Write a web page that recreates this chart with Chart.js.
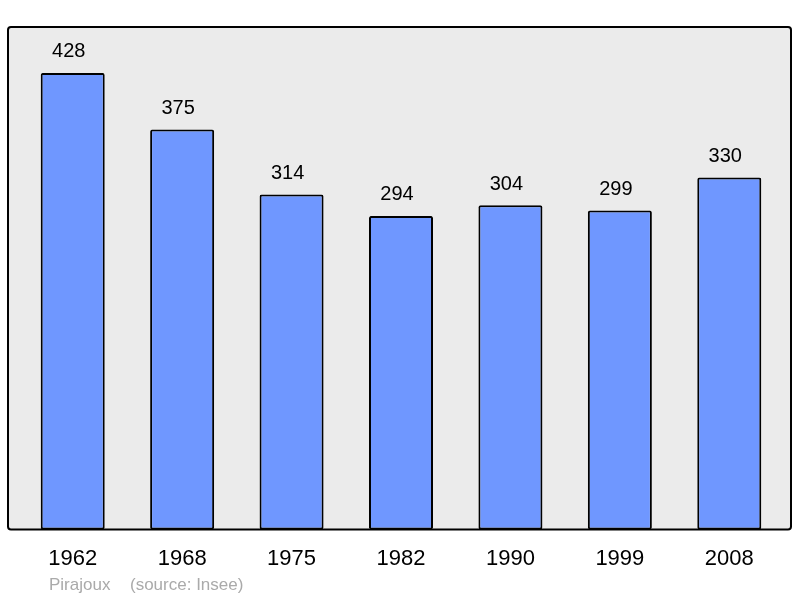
<!DOCTYPE html>
<html lang="fr">
<head>
  <meta charset="UTF-8">
  <title>Population Pirajoux</title>
  <script src="https://cdn.jsdelivr.net/npm/chart.js"></script>
  <style>
    body { margin: 0; background: #fff; }
    #chart { display: block; }
  </style>
</head>
<body>
  <canvas id="chart" width="800" height="598"></canvas>
  <script>
    const years = ['1962', '1968', '1975', '1982', '1990', '1999', '2008'];
    const population = [428, 375, 314, 294, 304, 299, 330];
    const yMax = 471;

    // grey frame behind the bars
    const framePlugin = {
      id: 'frame',
      beforeDraw(chart) {
        const { ctx, chartArea: a } = chart;
        const x = a.left - 10, y = a.top, w = (a.right + 7) - x, h = a.bottom - a.top;
        ctx.save();
        ctx.beginPath();
        ctx.roundRect(x, y, w, h, 3);
        ctx.fillStyle = '#ebebeb';
        ctx.fill();
        ctx.lineWidth = 2;
        ctx.strokeStyle = '#000';
        ctx.stroke();
        ctx.restore();
      },
      afterDraw(chart) {
        const { ctx } = chart;
        // value labels above bars
        const meta = chart.getDatasetMeta(0);
        ctx.save();
        ctx.font = '20px "Liberation Sans", Arial, sans-serif';
        ctx.fillStyle = '#000';
        ctx.textAlign = 'center';
        ctx.textBaseline = 'middle';
        meta.data.forEach((bar, i) => {
          ctx.fillText(population[i], bar.x - 4, bar.y - 21);
        });
        // footer
        ctx.font = '17px "Liberation Sans", Arial, sans-serif';
        ctx.fillStyle = '#aaaaaa';
        ctx.textAlign = 'left';
        ctx.fillText('Pirajoux', 49, 585);
        ctx.fillText('(source: Insee)', 130, 585);
        ctx.restore();
      }
    };

    new Chart(document.getElementById('chart'), {
      type: 'bar',
      data: {
        labels: years,
        datasets: [{
          data: population,
          backgroundColor: '#6f97ff',
          borderColor: '#000',
          borderWidth: 2,
          borderRadius: 2,
          borderSkipped: false,
          categoryPercentage: 1,
          barPercentage: 0.585
        }]
      },
      options: {
        responsive: false,
        animation: false,
        layout: { padding: { left: 18, right: 16, top: 27, bottom: 10 } },
        plugins: { legend: { display: false }, tooltip: { enabled: false } },
        scales: {
          x: {
            grid: { display: false, drawTicks: false },
            border: { display: false },
            ticks: {
              color: '#000',
              padding: 16,
              font: { family: '"Liberation Sans", Arial, sans-serif', size: 22 }
            }
          },
          y: {
            display: false,
            min: 0,
            max: yMax
          }
        }
      },
      plugins: [framePlugin]
    });
  </script>
</body>
</html>
